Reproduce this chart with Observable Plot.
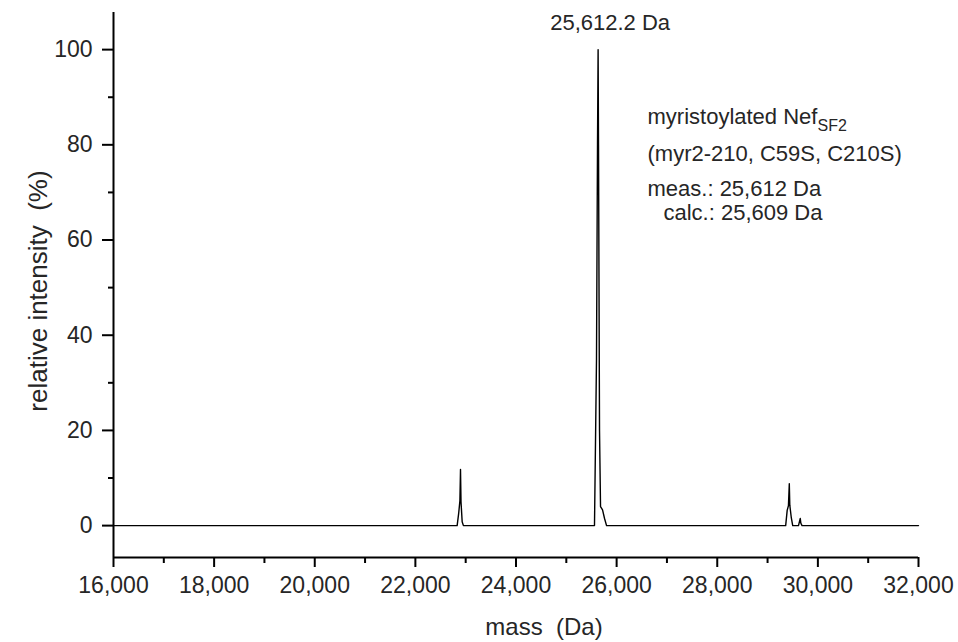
<!DOCTYPE html>
<html>
<head>
<meta charset="utf-8">
<script src="https://cdn.jsdelivr.net/npm/d3@7"></script>
<script src="https://cdn.jsdelivr.net/npm/@observablehq/plot@0.6"></script>
<style>
  html, body { margin: 0; padding: 0; background: #fff; }
  #chart { width: 958px; height: 642px; }
</style>
</head>
<body>
<div id="chart"></div>
<script>
// Deconvoluted mass spectrum
const mass = [
  16000,
  22830, 22860, 22885, 22897, 22907, 22930, 22955,
  25560, 25600, 25620, 25632, 25640, 25660, 25680, 25720, 25760, 25800,
  29360, 29390, 29415, 29432, 29442, 29470, 29500,
  29615, 29635, 29650, 29662, 29685,
  32000
];
const intensity = [
  0,
  0, 2.5, 5.2, 11.8, 5.0, 0.8, 0,
  0, 35, 80, 100, 80, 20, 4, 3.3, 1.5, 0,
  0, 3.2, 4.2, 8.8, 4.3, 1.8, 0,
  0, 0.9, 1.5, 0.5, 0,
  0
];

const xDomain = [16000, 32000];
const yDomain = [-6.7, 107.8];
const xTicks = [16000, 18000, 20000, 22000, 24000, 26000, 28000, 30000, 32000];
const xMinorTicks = [17000, 19000, 21000, 23000, 25000, 27000, 29000, 31000];
const yTicks = [0, 20, 40, 60, 80, 100];
const yMinorTicks = [10, 30, 50, 70, 90];

const peakLabel = [{mass: 25632, intensity: 100, text: "25,612.2 Da"}];
const infoLines = [
  {text: "myristoylated Nef", dx: 534, dy: 104},
  {text: "(myr2-210, C59S, C210S)", dx: 534, dy: 141},
  {text: "meas.: 25,612 Da", dx: 534, dy: 176},
  {text: "calc.: 25,609 Da", dx: 550, dy: 200}
];
const subscript = "SF2";
const xLabel = "mass\u00a0\u00a0(Da)";
const yLabel = "relative intensity\u00a0\u00a0(%)";

const spectrum = mass.map((m, i) => ({mass: m, intensity: intensity[i]}));
const fmt = d3.format(",");
const textColor = "#262626";

const chart = Plot.plot({
  width: 958,
  height: 642,
  marginLeft: 113,
  marginRight: 40,
  marginTop: 12,
  marginBottom: 85,
  style: {fontFamily: "'Liberation Sans', Arial, sans-serif", fontSize: "22px", color: textColor, background: "#fff"},
  x: {domain: xDomain},
  y: {domain: yDomain},
  marks: [
    Plot.line(spectrum, {x: "mass", y: "intensity", stroke: "#000", strokeWidth: 1.4}),
    Plot.ruleX([xDomain[0]], {stroke: "#000", strokeWidth: 2}),
    Plot.ruleY([yDomain[0]], {stroke: "#000", strokeWidth: 2}),
    Plot.axisX({ticks: xTicks, tickSize: 10, tickPadding: 9, tickFormat: fmt, label: null, fontSize: 23, stroke: "#000", strokeWidth: 2, fill: textColor}),
    Plot.axisX({ticks: xMinorTicks, tickSize: 6, text: null, label: null, stroke: "#000", strokeWidth: 2}),
    Plot.axisY({ticks: yTicks, tickSize: 11, tickPadding: 10, label: null, fontSize: 23, stroke: "#000", strokeWidth: 2, fill: textColor}),
    Plot.axisY({ticks: yMinorTicks, tickSize: 5, text: null, label: null, stroke: "#000", strokeWidth: 2}),
    Plot.text(peakLabel, {x: "mass", y: "intensity", text: "text", dx: 12, dy: -27, fontSize: 22, fill: textColor}),
    ...infoLines.map(l => Plot.text([l], {frameAnchor: "top-left", text: "text", textAnchor: "start", lineAnchor: "middle", dx: l.dx, dy: l.dy, fontSize: 22, fill: textColor})),
    Plot.text([xLabel], {frameAnchor: "bottom", text: d => d, textAnchor: "middle", lineAnchor: "middle", dx: 28, dy: 70, fontSize: 24, fill: textColor}),
    Plot.text([yLabel], {frameAnchor: "left", text: d => d, textAnchor: "middle", lineAnchor: "middle", rotate: -90, dx: -75, dy: 6, fontSize: 26, fill: textColor})
  ]
});

// add subscript to "Nef"
d3.select(chart).selectAll("text").each(function() {
  if (this.textContent === infoLines[0].text) {
    d3.select(this).append("tspan")
      .attr("font-size", 16)
      .attr("dy", "0.45em")
      .text(subscript);
  }
});

document.getElementById("chart").appendChild(chart);
</script>
</body>
</html>
